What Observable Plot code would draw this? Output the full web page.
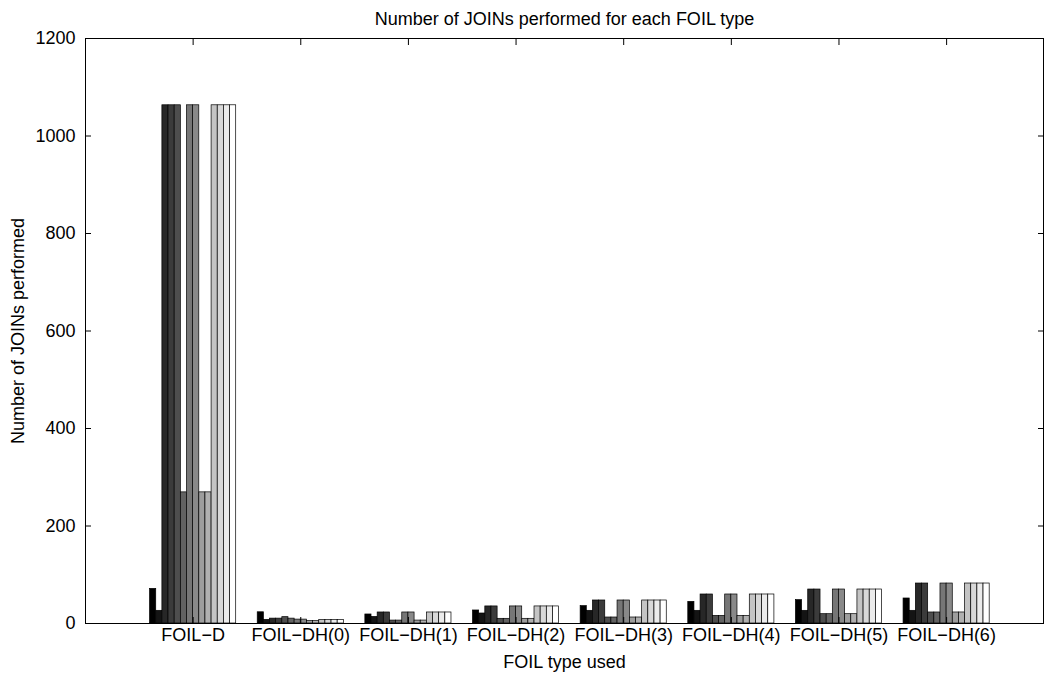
<!DOCTYPE html>
<html>
<head>
<meta charset="utf-8">
<script src="https://cdn.jsdelivr.net/npm/d3@7"></script>
<script src="https://cdn.jsdelivr.net/npm/@observablehq/plot@0.6"></script>
<style>
  html, body { margin: 0; padding: 0; background: #fff; }
</style>
</head>
<body>
<div id="chart"></div>
<script>
// Categories (x tick labels)
const categories = ["FOIL−D", "FOIL−DH(0)", "FOIL−DH(1)", "FOIL−DH(2)", "FOIL−DH(3)", "FOIL−DH(4)", "FOIL−DH(5)", "FOIL−DH(6)"];
const yTicks = [0, 200, 400, 600, 800, 1000, 1200];

// Values of the 14 series in each group
const foilD = [71, 26, 1063, 1063, 1063, 269, 1063, 1063, 269, 269, 1063, 1063, 1063, 1063];
const foilDH0 = [23, 7.5, 10, 10, 13, 10, 8, 8, 5, 5, 7, 7, 7, 7];
const foilDH1 = [18.5, 13.5, 22.6, 22.6, 6, 6, 22.6, 22.6, 6, 6, 22.6, 22.6, 22.6, 22.6];
const foilDH2 = [26.7, 20.5, 35, 35, 9.6, 9.6, 35, 35, 9.6, 9.6, 35, 35, 35, 35];
const foilDH3 = [35.6, 26, 47.2, 47.2, 12.3, 12.3, 47.2, 47.2, 12.3, 12.3, 47.2, 47.2, 47.2, 47.2];
const foilDH4 = [44.4, 26, 59.5, 59.5, 15.7, 15.7, 59.5, 59.5, 15.7, 15.7, 59.5, 59.5, 59.5, 59.5];
const foilDH5 = [47.9, 26, 69.7, 69.7, 19.1, 19.1, 69.7, 69.7, 19.1, 19.1, 69.7, 69.7, 69.7, 69.7];
const foilDH6 = [51.3, 26, 82, 82, 22.6, 22.6, 82, 82, 22.6, 22.6, 82, 82, 82, 82];

// Gray colormap, black to white, one per series
const seriesColors = ["#000000", "#141414", "#272727", "#3b3b3b", "#4e4e4e", "#626262", "#767676",
                      "#898989", "#9d9d9d", "#b0b0b0", "#c4c4c4", "#d8d8d8", "#ebebeb", "#ffffff"];

const groups = [foilD, foilDH0, foilDH1, foilDH2, foilDH3, foilDH4, foilDH5, foilDH6];
const nSeries = seriesColors.length;
const groupWidth = 0.8;
const bw = groupWidth / nSeries;
const rows = groups.flatMap((vals, g) => vals.map((v, s) => ({g: g + 1, s, v})));
const xTickPos = categories.map((c, i) => i + 1);

const font = "'Liberation Sans', Arial, Helvetica, sans-serif";
const fs = 18;

const chart = Plot.plot({
  width: 1051,
  height: 677,
  marginTop: 38,
  marginRight: 8,
  marginBottom: 54,
  marginLeft: 85,
  style: {fontFamily: font, fontSize: fs + "px", color: "black", background: "white", overflow: "visible"},
  x: {domain: [0, 8.9], axis: null},
  y: {domain: [0, 1200], axis: null},
  color: {type: "ordinal", domain: d3.range(nSeries), range: seriesColors},
  marks: [
    Plot.rect(rows, {
      x1: d => d.g - groupWidth / 2 + d.s * bw,
      x2: d => d.g - groupWidth / 2 + (d.s + 1) * bw,
      y1: 0,
      y2: "v",
      fill: "s",
      stroke: "black",
      strokeWidth: 0.7
    }),
    Plot.frame({stroke: "black", strokeWidth: 1}),
    // inward ticks (drawn outward, then shifted inside the frame)
    Plot.axisX(xTickPos, {anchor: "bottom", tickSize: 6, dy: -6, text: null, label: null}),
    Plot.axisX(xTickPos, {anchor: "top", tickSize: 6, dy: 6, text: null, label: null}),
    Plot.axisY(yTicks, {anchor: "left", tickSize: 6, dx: 6, text: null, label: null}),
    Plot.axisY(yTicks, {anchor: "right", tickSize: 6, dx: -6, text: null, label: null}),
    // tick labels
    Plot.axisX(xTickPos, {anchor: "bottom", tickSize: 0, tickPadding: 5, label: null, tickFormat: d => categories[d - 1], fontSize: fs}),
    Plot.axisY(yTicks, {anchor: "left", tickSize: 0, tickPadding: 10, label: null, tickFormat: d => String(d), fontSize: fs}),
    // titles
    Plot.text(["Number of JOINs performed for each FOIL type"], {frameAnchor: "top", lineAnchor: "middle", textAnchor: "middle", dy: -19, fontSize: fs}),
    Plot.text(["FOIL type used"], {frameAnchor: "bottom", lineAnchor: "middle", textAnchor: "middle", dy: 39, fontSize: fs}),
    Plot.text(["Number of JOINs performed"], {frameAnchor: "left", lineAnchor: "middle", textAnchor: "middle", dx: -67, rotate: -90, fontSize: fs})
  ]
});
document.getElementById("chart").appendChild(chart);
</script>
</body>
</html>
